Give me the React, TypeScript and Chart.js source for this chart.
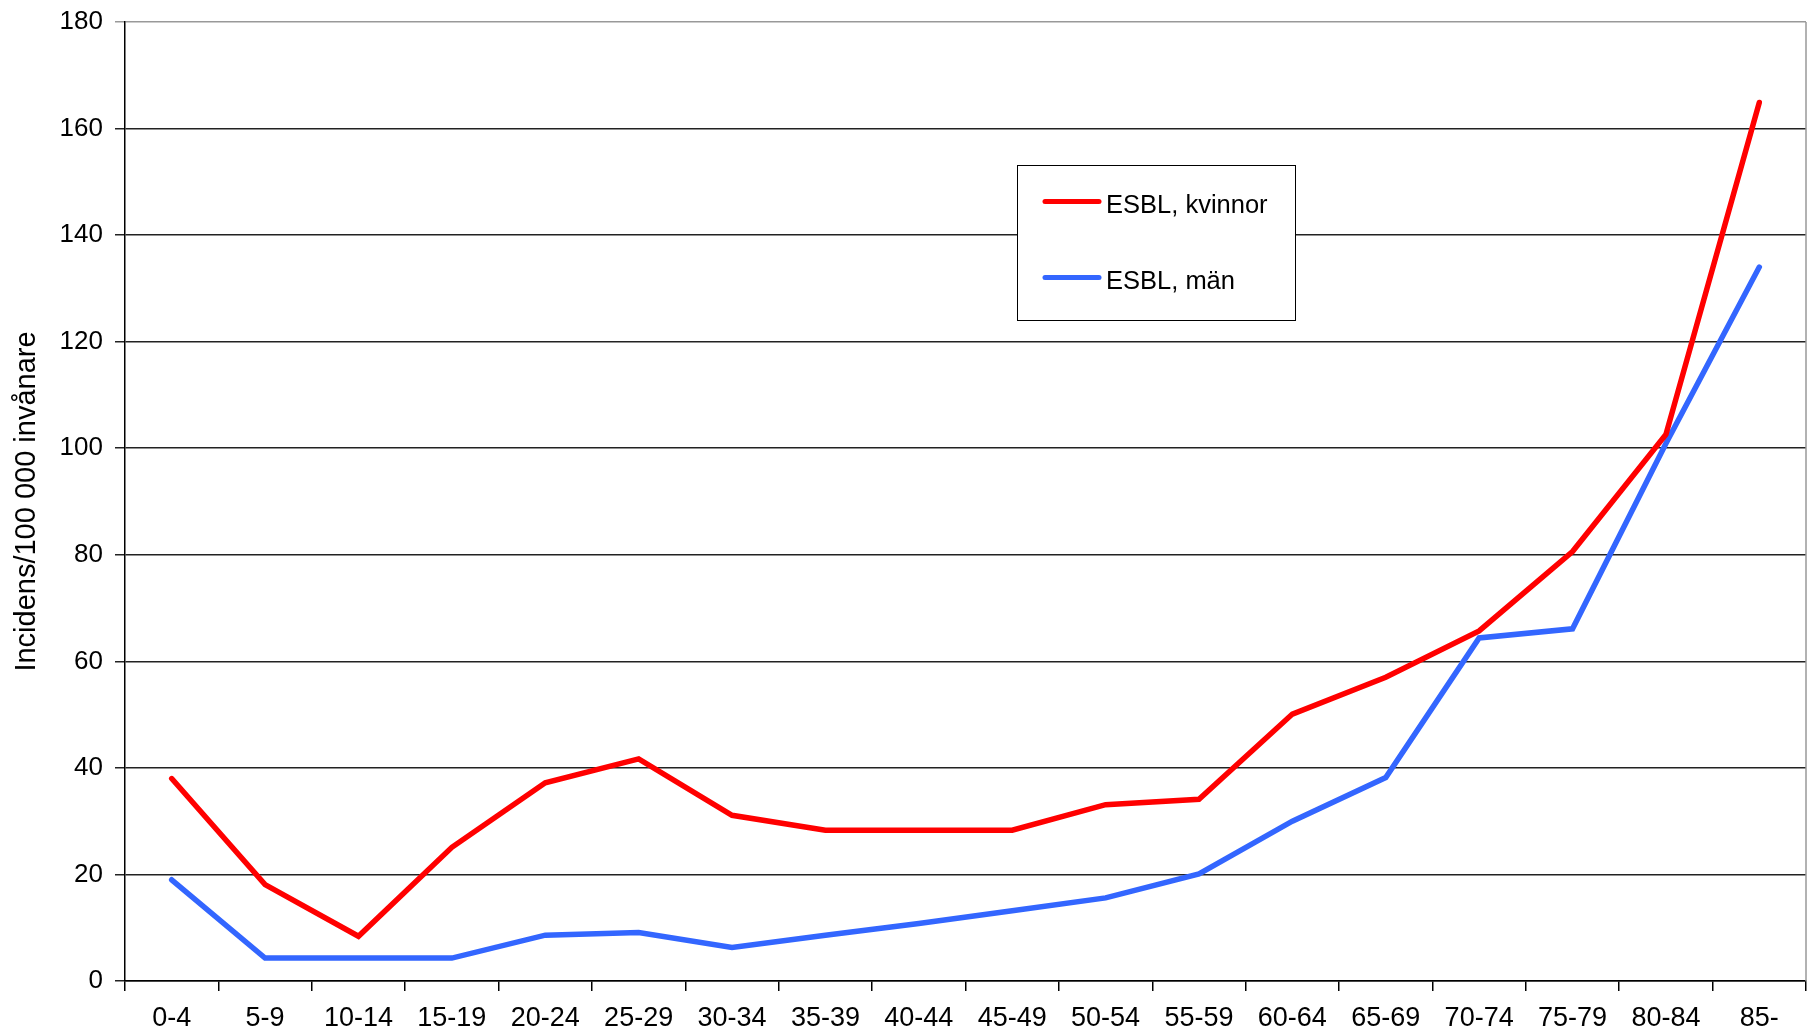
import React, { useEffect, useRef } from "react";
import { Chart, registerables } from "chart.js";

Chart.register(...registerables);

const categories = ["0-4", "5-9", "10-14", "15-19", "20-24", "25-29", "30-34", "35-39", "40-44", "45-49", "50-54", "55-59", "60-64", "65-69", "70-74", "75-79", "80-84", "85-"];
const kvinnor = [38.0, 18.1, 8.4, 25.1, 37.2, 41.7, 31.1, 28.3, 28.3, 28.3, 33.1, 34.1, 50.1, 57.0, 65.7, 80.6, 102.6, 164.9];
const man = [19.0, 4.3, 4.3, 4.3, 8.6, 9.1, 6.3, 8.6, 10.8, 13.2, 15.6, 20.1, 30.0, 38.2, 64.4, 66.1, 100.9, 134.0];
const seriesNames = ["ESBL, kvinnor", "ESBL, män"];
const seriesColors = ["#ff0000", "#3366ff"];
const yTitle = "Incidens/100 000 invånare";

const FONT = "'Liberation Sans', Arial, sans-serif";

const legendPlugin = {
  id: "boxLegend",
  afterDraw(chart: any) {
    const ctx = chart.ctx;
    const area = chart.chartArea;
    ctx.save();
    ctx.strokeStyle = "#999999";
    ctx.lineWidth = 1.5;
    ctx.beginPath();
    ctx.moveTo(area.right, area.top);
    ctx.lineTo(area.right, area.bottom);
    ctx.stroke();
    const bx = 1017, by = 165, bw = 278, bh = 155;
    ctx.fillStyle = "#ffffff";
    ctx.fillRect(bx, by, bw, bh);
    ctx.strokeStyle = "#000000";
    ctx.lineWidth = 1;
    ctx.strokeRect(bx + 0.5, by + 0.5, bw, bh);
    const rows = [201.5, 277.5];
    ctx.font = `25.5px ${FONT}`;
    ctx.textBaseline = "middle";
    ctx.textAlign = "left";
    rows.forEach((y, i) => {
      ctx.strokeStyle = seriesColors[i];
      ctx.lineWidth = 5;
      ctx.lineCap = "round";
      ctx.beginPath();
      ctx.moveTo(1045, y);
      ctx.lineTo(1099, y);
      ctx.stroke();
      ctx.fillStyle = "#000000";
      ctx.fillText(seriesNames[i], 1106, y + 4);
    });
    ctx.restore();
  },
};

export default function App() {
  const ref = useRef<HTMLCanvasElement | null>(null);
  useEffect(() => {
    document.body.style.margin = "0";
    const canvas = ref.current!;
    const chart = new Chart(canvas, {
      type: "line",
      data: {
        labels: categories,
        datasets: [
          {
            label: seriesNames[0],
            data: kvinnor,
            borderColor: seriesColors[0],
            backgroundColor: seriesColors[0],
            borderWidth: 5.5,
            pointRadius: 0,
            borderCapStyle: "round",
            borderJoinStyle: "miter",
            tension: 0,
          },
          {
            label: seriesNames[1],
            data: man,
            borderColor: seriesColors[1],
            backgroundColor: seriesColors[1],
            borderWidth: 5.5,
            pointRadius: 0,
            borderCapStyle: "round",
            borderJoinStyle: "miter",
            tension: 0,
          },
        ],
      },
      options: {
        responsive: false,
        animation: false,
        devicePixelRatio: 1,
        layout: { padding: { top: 22, left: 0, right: 1, bottom: 0 } },
        plugins: { legend: { display: false }, tooltip: { enabled: false } },
        scales: {
          x: {
            offset: true,
            grid: {
              offset: true,
              drawOnChartArea: false,
              color: "#000000",
              tickLength: 10,
              lineWidth: 1.5,
            },
            border: { color: "#000000", width: 1.5 },
            ticks: {
              color: "#000000",
              font: { family: FONT, size: 27 },
              padding: 11,
              maxRotation: 0,
              autoSkip: false,
            },
            afterFit(scale: any) {
              scale.height = 55;
              scale.paddingLeft = 0;
              scale.paddingRight = 0;
            },
          },
          y: {
            min: 0,
            max: 180,
            ticks: {
              stepSize: 20,
              color: "#000000",
              font: { family: FONT, size: 26 },
              padding: 12,
            },
            grid: {
              color: (c: any) => (c.tick && c.tick.value === 180 ? "#999999" : "#222222"),
              lineWidth: 1.5,
              tickLength: 10,
            },
            border: { color: "#000000", width: 1.5 },
            title: {
              display: true,
              text: yTitle,
              color: "#000000",
              font: { family: FONT, size: 29 },
              padding: { top: 10, bottom: 0 },
            },
            afterFit(scale: any) {
              scale.width = 125;
              scale.paddingTop = 0;
              scale.paddingBottom = 0;
            },
          },
        },
      },
      plugins: [legendPlugin],
    });
    return () => chart.destroy();
  }, []);
  return (
    <div style={{ position: "absolute", left: 0, top: 0, width: 1807, height: 1036, background: "#fff" }}>
      <canvas ref={ref} width={1807} height={1036} style={{ width: 1807, height: 1036 }} />
    </div>
  );
}
